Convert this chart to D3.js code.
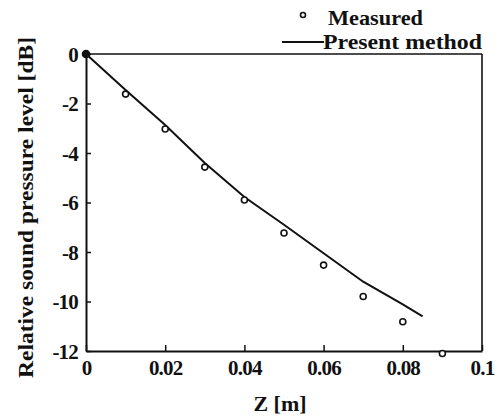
<!DOCTYPE html>
<html>
<head>
<meta charset="utf-8">
<script src="https://cdn.jsdelivr.net/npm/d3@7"></script>
<style>
  body { margin: 0; background: #fff; }
</style>
</head>
<body>
<div id="chart"></div>
<script>
// measured points
const measZ = [0, 0.01, 0.02, 0.03, 0.04, 0.05, 0.06, 0.07, 0.08, 0.09];
const measSPL = [0, -1.62, -3.03, -4.57, -5.9, -7.23, -8.53, -9.8, -10.82, -12.1];

// present method curve
const calcZ = [0, 0.01, 0.02, 0.03, 0.04, 0.05, 0.06, 0.07, 0.08, 0.085];
const calcSPL = [0, -1.45, -2.87, -4.4, -5.78, -6.9, -8.05, -9.2, -10.12, -10.6];

const xTicks = [0, 0.02, 0.04, 0.06, 0.08, 0.1];
const xTickLabels = ["0", "0.02", "0.04", "0.06", "0.08", "0.1"];
const yTicks = [0, -2, -4, -6, -8, -10, -12];

const W = 501, H = 417;
const margin = { top: 54, right: 19, bottom: 66, left: 86 };
const width = W - margin.left - margin.right;
const height = H - margin.top - margin.bottom;
const FONT = '"Liberation Serif", "Times New Roman", serif';

const svg = d3.select("#chart").append("svg")
  .attr("width", W)
  .attr("height", H);

const g = svg.append("g")
  .attr("transform", `translate(${margin.left},${margin.top})`);

const x = d3.scaleLinear().domain([0, 0.1]).range([0, width]);
const y = d3.scaleLinear().domain([-12, 0]).range([height, 0]);

function serif(sel, size) {
  return sel.style("font-family", FONT)
    .style("font-weight", "bold")
    .style("font-size", size + "px")
    .style("fill", "#111");
}

// frame (top + right, thinner than axes)
g.append("line")
  .attr("x1", 0).attr("x2", width).attr("y1", 0).attr("y2", 0)
  .attr("stroke", "#111").attr("stroke-width", 1.4);
g.append("line")
  .attr("x1", width).attr("x2", width).attr("y1", 0).attr("y2", height)
  .attr("stroke", "#111").attr("stroke-width", 1.6);

// axes, ticks pointing inward
const xAxis = g.append("g")
  .attr("transform", `translate(0,${height})`)
  .call(d3.axisBottom(x).tickValues(xTicks)
    .tickFormat((d, i) => xTickLabels[i])
    .tickSizeInner(-6).tickSizeOuter(0).tickPadding(9));

const yAxis = g.append("g")
  .call(d3.axisLeft(y).tickValues(yTicks)
    .tickFormat(d => d === 0 ? "0" : "-" + Math.abs(d))
    .tickSizeInner(-5).tickSizeOuter(0).tickPadding(8));

[xAxis, yAxis].forEach(a => {
  a.select(".domain").attr("stroke", "#111").attr("stroke-width", 2);
  a.selectAll(".tick line").attr("stroke", "#111").attr("stroke-width", 1.5);
  serif(a.selectAll(".tick text"), 21).style("letter-spacing", "-0.8px");
});
xAxis.selectAll(".tick text").attr("dy", "0.71em");
yAxis.selectAll(".tick text").attr("dy", "0.35em");

// present method line
const line = d3.line()
  .x((d, i) => x(calcZ[i]))
  .y(d => y(d));

g.append("path")
  .datum(calcSPL)
  .attr("fill", "none")
  .attr("stroke", "#111")
  .attr("stroke-width", 2)
  .attr("d", line);

// measured circles
g.selectAll(".meas")
  .data(measSPL)
  .enter()
  .append("circle")
  .attr("class", "meas")
  .attr("cx", (d, i) => x(measZ[i]))
  .attr("cy", d => y(d))
  .attr("r", (d, i) => i === 0 ? 3.5 : 3)
  .attr("fill", (d, i) => i === 0 ? "#111" : "#fff")
  .attr("stroke", "#111")
  .attr("stroke-width", 1.6);

// axis titles
serif(svg.append("text"), 22)
  .attr("x", margin.left + width / 2 - 4)
  .attr("y", 411)
  .attr("text-anchor", "middle")
  .text("Z [m]");

serif(svg.append("text"), 22)
  .attr("transform", `translate(33,${margin.top + height / 2 + 5}) rotate(-90)`)
  .attr("text-anchor", "middle")
  .attr("textLength", 341)
  .attr("lengthAdjust", "spacingAndGlyphs")
  .text("Relative sound pressure level [dB]");

// legend
const legend = svg.append("g");
legend.append("circle")
  .attr("cx", 303).attr("cy", 15).attr("r", 2.5)
  .attr("fill", "#fff").attr("stroke", "#111").attr("stroke-width", 1.6);
serif(legend.append("text"), 22)
  .attr("x", 328).attr("y", 25)
  .attr("textLength", 95)
  .attr("lengthAdjust", "spacingAndGlyphs")
  .text("Measured");
legend.append("line")
  .attr("x1", 282).attr("x2", 324).attr("y1", 42).attr("y2", 42)
  .attr("stroke", "#111").attr("stroke-width", 1.8);
serif(legend.append("text"), 22)
  .attr("x", 323).attr("y", 49)
  .attr("textLength", 159)
  .attr("lengthAdjust", "spacingAndGlyphs")
  .text("Present method");
</script>
</body>
</html>
